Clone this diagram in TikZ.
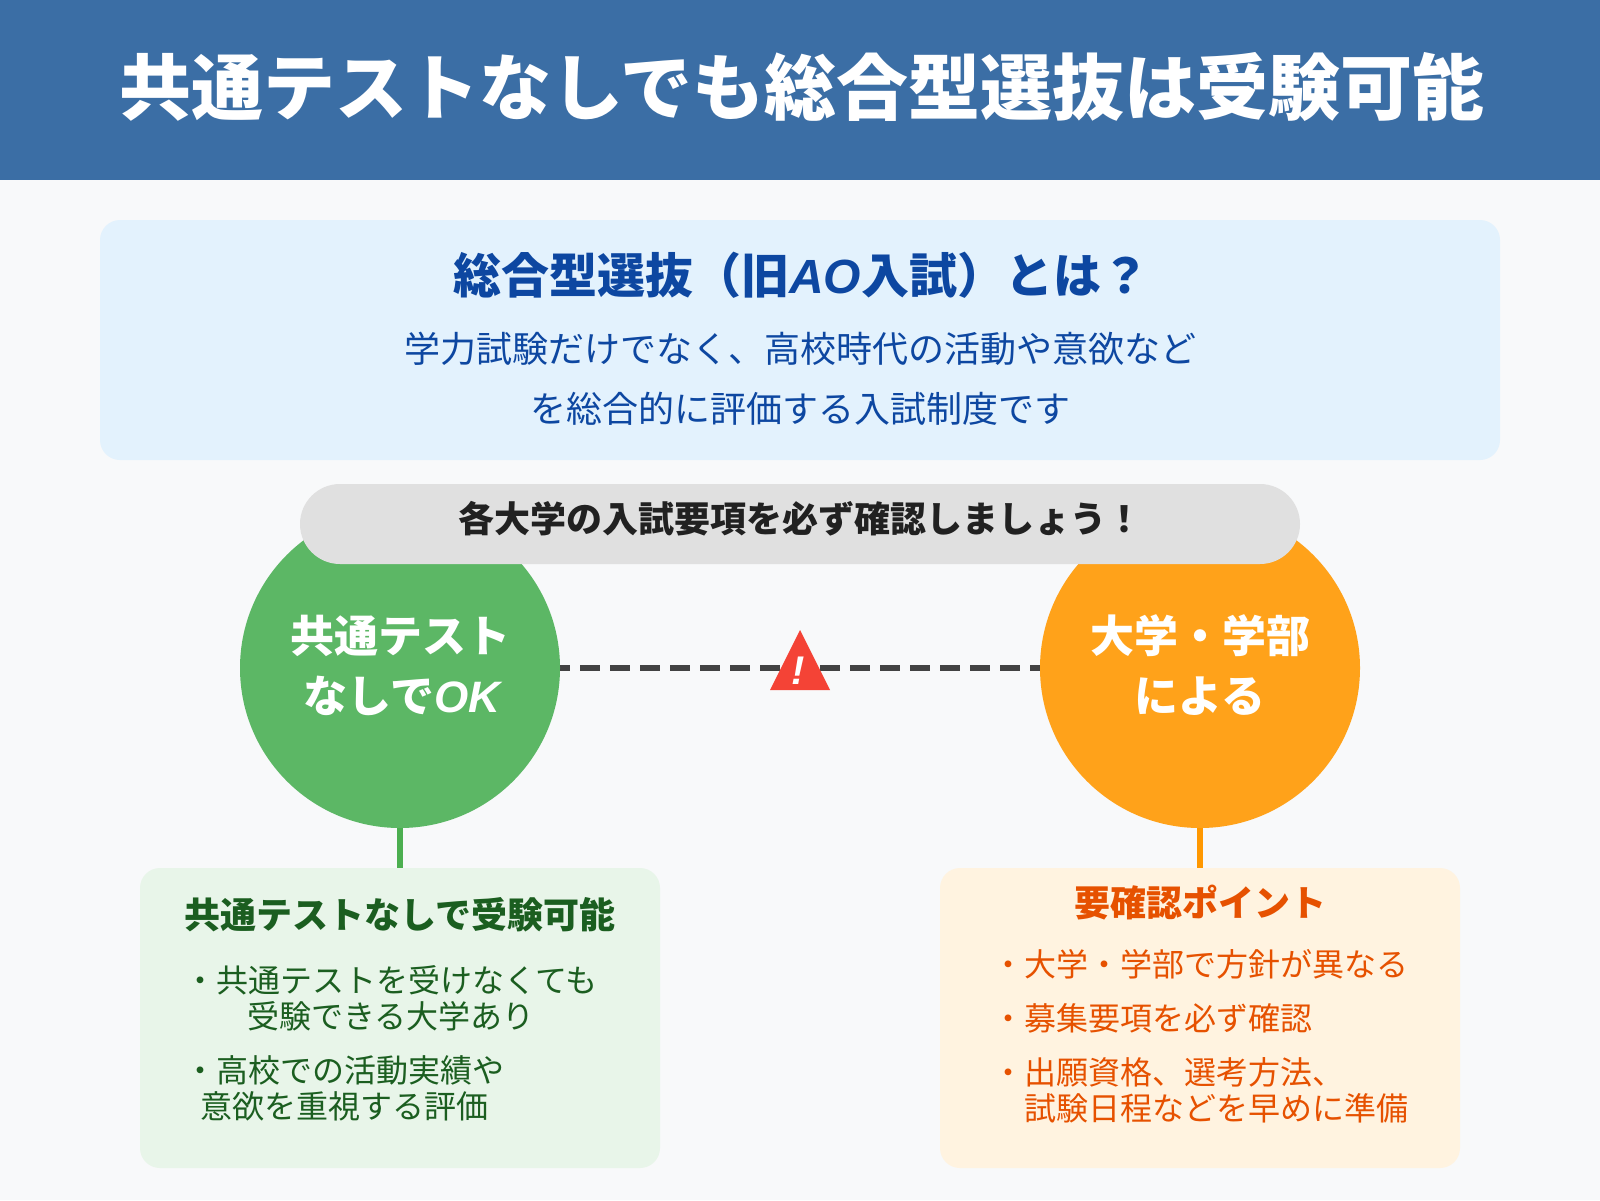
\documentclass[tikz,border=0pt]{standalone}
\usepackage{fontspec}
\setmainfont{Noto Sans CJK JP}
\newfontfamily\latit{Liberation Sans}
\definecolor{hdr}{HTML}{3B6EA5}
\definecolor{pagebg}{HTML}{F8F9FA}
\definecolor{introbg}{HTML}{E3F2FD}
\definecolor{introfg}{HTML}{0D47A1}
\definecolor{pillbg}{HTML}{E0E0E0}
\definecolor{pillfg}{HTML}{212121}
\definecolor{gcirc}{HTML}{5CB765}
\definecolor{ocirc}{HTML}{FFA21A}
\definecolor{gstem}{HTML}{4CAF50}
\definecolor{ostem}{HTML}{FF9800}
\definecolor{gbg}{HTML}{E8F5E9}
\definecolor{obg}{HTML}{FFF3E0}
\definecolor{gfg}{HTML}{1B5E20}
\definecolor{ofg}{HTML}{E65100}
\definecolor{dashc}{HTML}{424242}
\definecolor{warn}{HTML}{F44336}
\pgfdeclarelayer{pagelayer}
\pgfdeclarelayer{linelayer}
\pgfsetlayers{pagelayer,linelayer,main}
\tikzset{
  every node/.style={inner sep=0pt,outer sep=0pt},
  rbox/.style={rectangle,rounded corners=20pt,minimum width=#1},
  bigcirc/.style={circle,minimum size=320pt},
  ctext/.style={anchor=base,font=\fontsize{44}{44}\selectfont\bfseries,text=white},
  lgtext/.style={anchor=base west,font=\fontsize{32}{32}\selectfont,text=gfg},
  lotext/.style={anchor=base west,font=\fontsize{32}{32}\selectfont,text=ofg},
  intro/.style={anchor=base,font=\fontsize{36}{36}\selectfont,text=introfg},
}
\newcommand{\ib}[1]{{\latit\bfseries\itshape #1}}
\begin{document}
\begin{tikzpicture}[x=1pt,y=-1pt]
\useasboundingbox (0,0) rectangle (1600,1200);
\begin{pgfonlayer}{pagelayer}
\fill[pagebg] (0,0) rectangle (1600,1200);
\fill[hdr] (0,0) rectangle (1600,180);
\end{pgfonlayer}
\node[anchor=base,text=white,font=\fontsize{72}{72}\selectfont\bfseries] (title) at (802,114.5) {共通テストなしでも総合型選抜は受験可能};
\node[rbox=1400pt,minimum height=240pt,fill=introbg] (introbox) at (800,340) {};
\node[anchor=base,text=introfg,font=\fontsize{48}{48}\selectfont\bfseries] (introhead) at (801,293) {総合型選抜（旧\ib{AO}入試）とは？};
\node[intro] (intro1) at (800,362) {学力試験だけでなく、高校時代の活動や意欲など};
\node[intro] (intro2) at (800,422) {を総合的に評価する入試制度です};
\node[bigcirc,fill=gcirc] (gc) at (400,668) {};
\node[bigcirc,fill=ocirc] (oc) at (1200,668) {};
\node[rectangle,rounded corners=40pt,minimum width=1000pt,minimum height=80pt,fill=pillbg] (pill) at (800,524) {};
\node[anchor=base,text=pillfg,font=\fontsize{36}{36}\selectfont\bfseries] (pilltext) at (800,532) {各大学の入試要項を必ず確認しましょう！};
\begin{pgfonlayer}{linelayer}
\draw[dashc,line width=6pt,dash pattern=on 20pt off 10pt] (gc.center) -- (oc.center);
\end{pgfonlayer}
\coordinate (ta) at (800,630);
\coordinate (tb) at (830,690);
\coordinate (tc) at (770,690);
\fill[warn] (ta) -- (tb) -- (tc) -- cycle;
\node[anchor=base,text=white,font=\fontsize{40}{40}\selectfont] (bang) at (798,684) {\ib{!}};
\node[ctext] (g1) at (400,652) {共通テスト};
\node[ctext] (g2) at (402,712) {なしで\ib{OK}};
\node[ctext] (o1) at (1200,652) {大学・学部};
\node[ctext] (o2) at (1200,712) {による};
\node[rbox=520pt,minimum height=300pt,fill=gbg] (gbox) at (400,1018) {};
\node[rbox=520pt,minimum height=300pt,fill=obg] (obox) at (1200,1018) {};
\draw[gstem,line width=6pt] (gc.south) -- (gbox.north);
\draw[ostem,line width=6pt] (oc.south) -- (obox.north);
\node[anchor=base,text=gfg,font=\fontsize{36}{36}\selectfont\bfseries] (ghead) at (400,928) {共通テストなしで受験可能};
\node[lgtext] (g3) at (184,992) {・共通テストを受けなくても};
\node[lgtext] (g4) at (247,1028) {受験できる大学あり};
\node[lgtext] (g5) at (184,1082) {・高校での活動実績や};
\node[lgtext] (g6) at (200,1118) {意欲を重視する評価};
\node[anchor=base,text=ofg,font=\fontsize{36}{36}\selectfont\bfseries] (ohead) at (1200,916) {要確認ポイント};
\node[lotext] (o3) at (992,976) {・大学・学部で方針が異なる};
\node[lotext] (o4) at (992,1030) {・募集要項を必ず確認};
\node[lotext] (o5) at (992,1084) {・出願資格、選考方法、};
\node[lotext] (o6) at (1024,1120) {試験日程などを早めに準備};
\end{tikzpicture}
\end{document}
